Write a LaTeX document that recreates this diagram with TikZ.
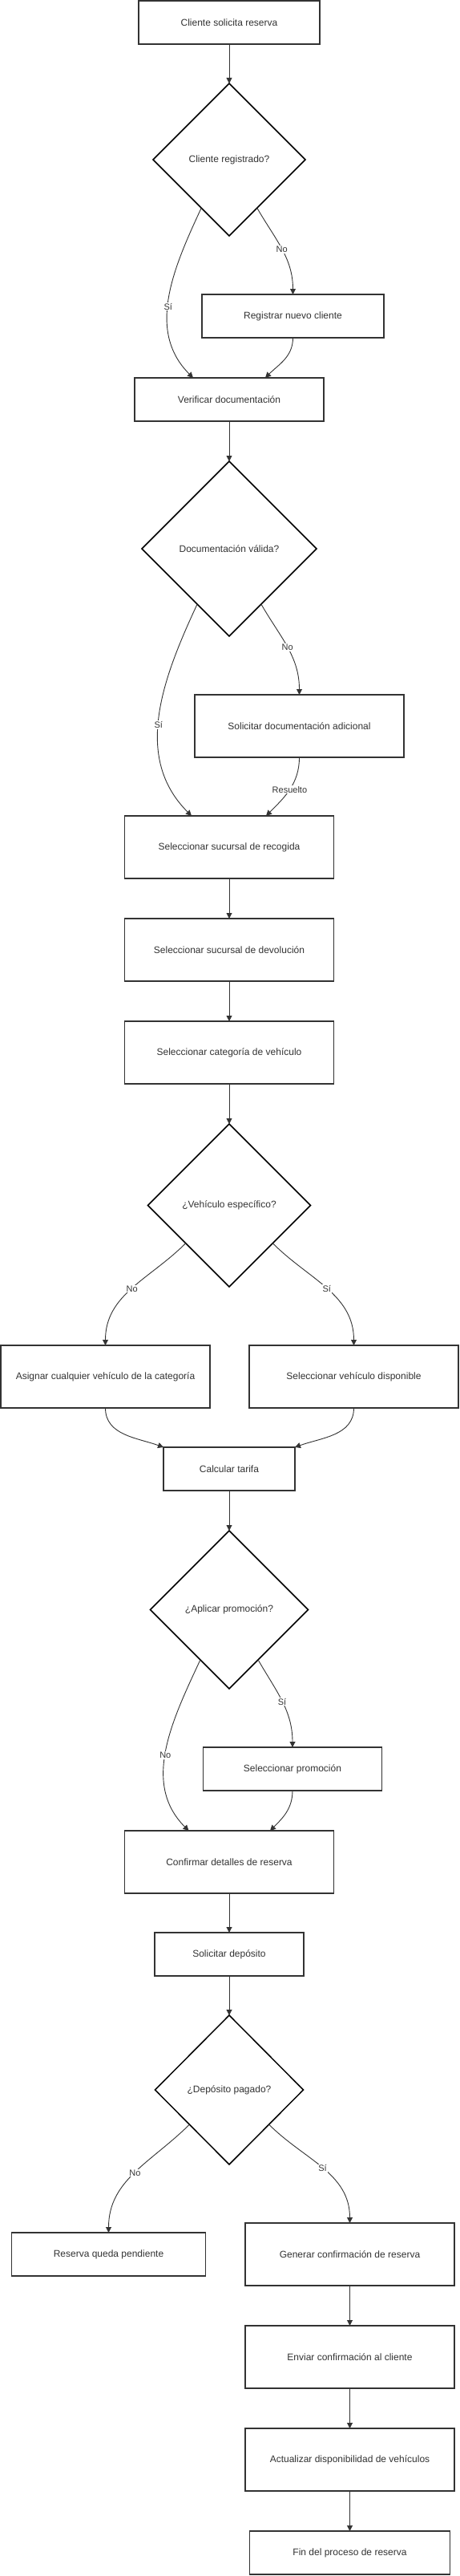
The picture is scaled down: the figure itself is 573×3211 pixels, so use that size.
\documentclass[tikz,border=0pt]{standalone}
\usepackage{fontspec}
\setmainfont{Liberation Sans}
\usetikzlibrary{positioning, arrows.meta, shapes.geometric}
\definecolor{ink}{HTML}{333333}

\begin{document}
\begin{tikzpicture}[x=1pt, y=1pt, node distance=50pt,
    font=\fontsize{12}{14}\selectfont, text=ink,
    stepbox/.style={draw=ink, line width=1.5pt, fill=white, minimum height=54pt, inner sep=0pt, outer sep=0pt},
    bigbox/.style={stepbox, minimum width=261pt, minimum height=78pt},
    choice/.style={diamond, draw=black, line width=1.5pt, fill=white, inner sep=0pt, outer sep=0pt},
    flow/.style={-{Triangle[length=7pt, width=7pt]}, line width=0.9pt, draw=ink},
    lbl/.style={fill=white, inner sep=1pt, font=\fontsize{11}{13}\selectfont}]
  \useasboundingbox (0,0) rectangle (573,-3211);

  % registro del cliente
  \node[stepbox, minimum width=226pt] (request) at (286,-28) {Cliente solicita reserva};
  \node[choice, below=49pt of request, minimum width=190pt, minimum height=190pt] (registered) {Cliente registrado?};
  \node[stepbox, below=73pt of registered, xshift=79.5pt, minimum width=227pt] (register) {Registrar nuevo cliente};
  \node[stepbox, below=177pt of registered, minimum width=236pt] (verify) {Verificar documentación};

  % documentacion
  \node[choice, below=of verify, minimum width=218pt, minimum height=218pt] (docvalid) {Documentación válida?};
  \node[bigbox, below=73pt of docvalid, xshift=87.5pt] (moredocs) {Solicitar documentación adicional};
  \node[bigbox, below=224pt of docvalid] (pickup) {Seleccionar sucursal de recogida};
  \node[bigbox, below=of pickup] (dropoff) {Seleccionar sucursal de devolución};
  \node[bigbox, below=of dropoff] (category) {Seleccionar categoría de vehículo};

  % vehiculo y tarifa
  \node[choice, below=of category, minimum width=203pt, minimum height=203pt] (specific) {¿Vehículo específico?};
  \node[bigbox, below=73pt of specific, xshift=-154.5pt] (anycar) {Asignar cualquier vehículo de la categoría};
  \node[bigbox, below=73pt of specific, xshift=155.5pt] (choosecar) {Seleccionar vehículo disponible};
  \node[stepbox, below=200pt of specific, minimum width=164pt] (rate) {Calcular tarifa};

  % promocion y deposito
  \node[choice, below=of rate, minimum width=197pt, minimum height=197pt] (promo) {¿Aplicar promoción?};
  \node[stepbox, below=73pt of promo, xshift=79pt, minimum width=223pt] (pickpromo) {Seleccionar promoción};
  \node[bigbox, below=177pt of promo] (confirm) {Confirmar detalles de reserva};
  \node[stepbox, below=49pt of confirm, minimum width=186pt] (deposit) {Solicitar depósito};
  \node[choice, below=49pt of deposit, minimum width=185pt, minimum height=186pt] (paid) {¿Depósito pagado?};
  \node[stepbox, below=85pt of paid, xshift=-150.5pt, minimum width=242pt] (pending) {Reserva queda pendiente};
  \node[bigbox, below=73pt of paid, xshift=150.5pt] (generate) {Generar confirmación de reserva};
  \node[bigbox, below=of generate] (send) {Enviar confirmación al cliente};
  \node[bigbox, below=of send] (update) {Actualizar disponibilidad de vehículos};
  \node[stepbox, below=of update, minimum width=250pt] (finish) {Fin del proceso de reserva};

  % conexiones
  \draw[flow] (request) -- (registered);
  \draw[flow] (registered.240) to[out=-115, in=135] node[lbl, pos=0.55] {Sí} ([xshift=-45pt]verify.north);
  \draw[flow] (registered.300) to[out=-60, in=90] node[lbl, pos=0.5] {No} (register.north);
  \draw[flow] (register.south) to[out=-90, in=45] ([xshift=45pt]verify.north);
  \draw[flow] (verify) -- (docvalid);
  \draw[flow] (docvalid.240) to[out=-115, in=135] node[lbl, pos=0.54] {Sí} ([xshift=-47pt]pickup.north);
  \draw[flow] (docvalid.300) to[out=-60, in=90] node[lbl, pos=0.5] {No} (moredocs.north);
  \draw[flow] (moredocs.south) to[out=-90, in=45] node[lbl, pos=0.5] {Resuelto} ([xshift=46pt]pickup.north);
  \draw[flow] (pickup) -- (dropoff);
  \draw[flow] (dropoff) -- (category);
  \draw[flow] (category) -- (specific);
  \draw[flow] (specific.221) to[out=-135, in=90] node[lbl, pos=0.5] {No} (anycar.north);
  \draw[flow] (specific.-41) to[out=-45, in=90] node[lbl, pos=0.5] {Sí} (choosecar.north);
  \draw[flow] (anycar.south) to[out=-90, in=160] (rate.north west);
  \draw[flow] (choosecar.south) to[out=-90, in=20] (rate.north east);
  \draw[flow] (rate) -- (promo);
  \draw[flow] (promo.240) to[out=-115, in=135] node[lbl, pos=0.53] {No} ([xshift=-50.5pt]confirm.north);
  \draw[flow] (promo.300) to[out=-60, in=90] node[lbl, pos=0.5] {Sí} (pickpromo.north);
  \draw[flow] (pickpromo.south) to[out=-90, in=45] ([xshift=51pt]confirm.north);
  \draw[flow] (confirm) -- (deposit);
  \draw[flow] (deposit) -- (paid);
  \draw[flow] (paid.221) to[out=-135, in=90] node[lbl, pos=0.5] {No} (pending.north);
  \draw[flow] (paid.-41) to[out=-45, in=90] node[lbl, pos=0.5] {Sí} (generate.north);
  \draw[flow] (generate) -- (send);
  \draw[flow] (send) -- (update);
  \draw[flow] (update) -- (finish);
\end{tikzpicture}
\end{document}
